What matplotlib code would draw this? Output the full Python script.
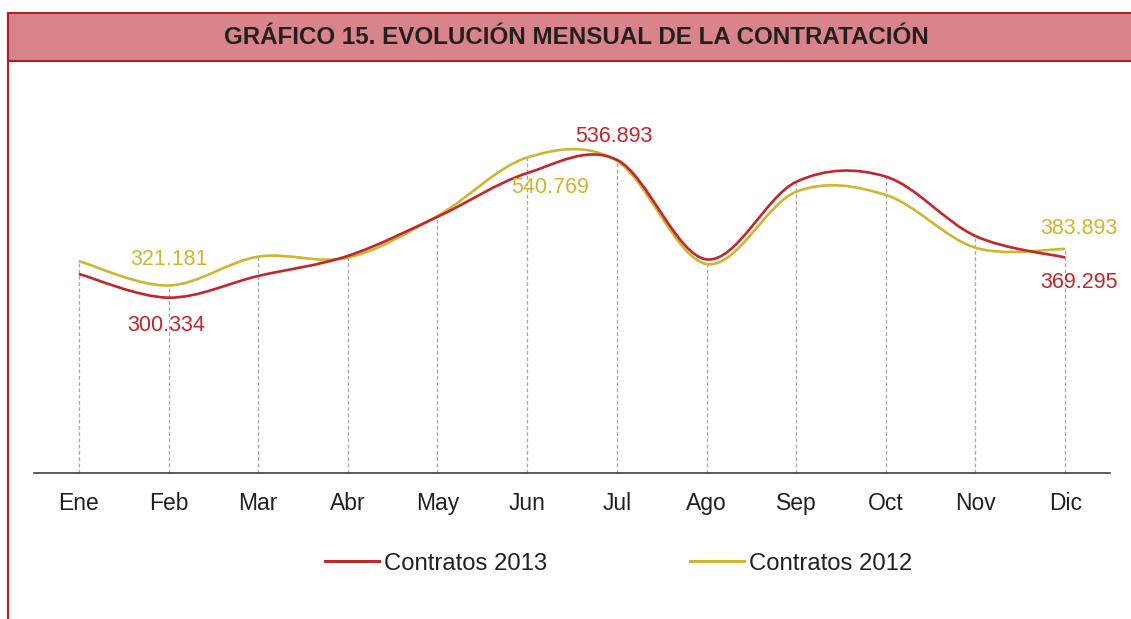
import numpy as np
import matplotlib
matplotlib.use("Agg")
import matplotlib.pyplot as plt
from matplotlib.path import Path
from matplotlib.patches import PathPatch, Rectangle
from matplotlib.lines import Line2D

plt.rcParams['font.family'] = ['Liberation Sans', 'DejaVu Sans']

# data
months = ["Ene", "Feb", "Mar", "Abr", "May", "Jun", "Jul", "Ago", "Sep", "Oct", "Nov", "Dic"]
contratos_2013 = [341000, 300334, 337500, 372000, 439000, 514000, 536893, 366000, 499000, 508000, 406000, 369295]
contratos_2012 = [363000, 321181, 370700, 369000, 440500, 540769, 535000, 358000, 482000, 476500, 386000, 383893]

RED = "#C1272D"
YELLOW = "#CDB632"
TXT = "#231F20"


def smooth_path(xs, ys):
    # excel style smoothed line: cubic bezier with catmull-rom control points
    pts = np.column_stack([xs, ys]).astype(float)
    n = len(pts)
    verts = [pts[0]]
    codes = [Path.MOVETO]
    for i in range(n - 1):
        p0 = pts[i - 1] if i > 0 else pts[i]
        p1 = pts[i]
        p2 = pts[i + 1]
        p3 = pts[i + 2] if i + 2 < n else pts[i + 1]
        c1 = p1 + (p2 - p0) / 6.0
        c2 = p2 - (p3 - p1) / 6.0
        verts += [c1, c2, p2]
        codes += [Path.CURVE4] * 3
    return Path(verts, codes)


W, H = 1131, 619
fig = plt.figure(figsize=(W / 100, H / 100), dpi=100)

# header band and red frame
fig.patches.append(Rectangle((8 / W, 1 - 61 / H), 1.0, 47.5 / H, transform=fig.transFigure,
                             facecolor="#D9838A", edgecolor="#B01E24", lw=1.5))
fig.lines.append(Line2D([8 / W, 8 / W], [0, 1 - 13.5 / H], transform=fig.transFigure,
                        color="#B01E24", lw=1.5))
fig.text(576 / W, 1 - 37.5 / H, "GRÁFICO 15. EVOLUCIÓN MENSUAL DE LA CONTRATACIÓN",
         ha="center", va="center", fontsize=17.4, fontweight="bold", color=TXT)

ax = fig.add_axes([34 / W, (H - 472.7) / H, (1110 - 34) / W, 349.7 / H])
x = np.arange(len(months))
ax.set_xlim(-0.5, len(months) - 0.5)
ax.set_ylim(0, 600000)

# dashed drop lines up to the higher series
tops = np.maximum(contratos_2013, contratos_2012)
ax.vlines(x, 0, tops, colors="#A6A6A6", linestyles=(0, (3, 2)), lw=0.9, zorder=1)

ax.add_patch(PathPatch(smooth_path(x, contratos_2012), fill=False, edgecolor=YELLOW, lw=1.9, zorder=3))
ax.add_patch(PathPatch(smooth_path(x, contratos_2013), fill=False, edgecolor=RED, lw=1.9, zorder=4))


def fmt(v):
    return f"{v:,}".replace(",", ".")


# data labels (index, series, color, offset in points)
labels = [
    (1, contratos_2012, YELLOW, (0, 19)),
    (1, contratos_2013, RED, (-2, -20)),
    (6, contratos_2013, RED, (-2, 16.5)),
    (5, contratos_2012, YELLOW, (16.5, -21.5)),
    (11, contratos_2012, YELLOW, (10, 15)),
    (11, contratos_2013, RED, (10, -18)),
]
for i, series, col, off in labels:
    ax.annotate(fmt(series[i]), (x[i], series[i]), xytext=off, textcoords="offset points",
                ha="center", va="center", fontsize=15.5, color=col, zorder=5)

for s in ["top", "right", "left"]:
    ax.spines[s].set_visible(False)
ax.spines["bottom"].set_color("#404040")
ax.spines["bottom"].set_linewidth(1.2)
ax.set_yticks([])
ax.set_xticks(x)
ax.set_xticklabels(months, fontsize=16.5, color=TXT)
ax.tick_params(axis="x", length=0, pad=14)

handles = [Line2D([], [], color=RED, lw=2.2), Line2D([], [], color=YELLOW, lw=2.2)]
fig.legend(handles, ["Contratos 2013", "Contratos 2012"], loc="center",
           bbox_to_anchor=(618.5 / W, 1 - 563.5 / H), ncol=2, frameon=False, fontsize=17.2,
           handlelength=2.25, handletextpad=0.2, columnspacing=6.0, labelcolor=TXT)

fig.savefig("out.png", dpi=100)
